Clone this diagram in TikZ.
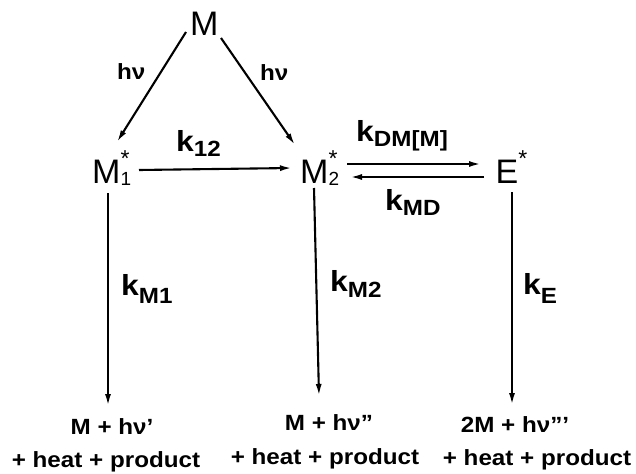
\documentclass[tikz,border=0pt]{standalone}
\usepackage{fontspec}
\usepackage{graphicx}
\setmainfont{Liberation Sans}
\usetikzlibrary{arrows.meta,calc}
\tikzset{
  big/.style={inner sep=0pt, anchor=base west, font=\fontsize{34}{34}\selectfont},
  klab/.style={inner sep=0pt, anchor=base west, font=\bfseries\fontsize{29}{29}\selectfont},
  hvlab/.style={inner sep=0pt, anchor=base west, font=\bfseries\fontsize{22}{22}\selectfont},
  prod/.style={inner sep=0pt, anchor=base, font=\bfseries\fontsize{22}{22}\selectfont},
  arr/.style={-{Latex[length=12pt,width=6pt]}, line width=2.1pt},
}
\newcommand\xs[1]{\scalebox{1.1}[1]{#1}}
\newcommand\sbs[2][5pt]{\raisebox{-#1}{\fontsize{22}{22}\selectfont #2}}
\newcommand\excited[1]{\rlap{\raisebox{-2pt}{\fontsize{19}{19}\selectfont #1}}\raisebox{17pt}{\fontsize{23}{23}\selectfont *}}
\begin{document}
\begin{tikzpicture}[x=1pt,y=-1pt]
\useasboundingbox (0,0) rectangle (636,473);
% species
\node[big] (M)  at (190,36)   {M};
\node[big] (M1) at (92,183)   {M\excited{1}};
\node[big] (M2) at (300,183)  {M\excited{2}};
\node[big] (E)  at (495.5,183) {E\raisebox{17pt}{\fontsize{23}{23}\selectfont *}};
% products
\node[prod] (L1) at (112,434) {\xs{M + hν'}};
\node[prod] (L2) at (329,430) {\xs{M + hν''}};
\node[prod] (L3) at (515,432) {\xs{2M + hν'''}};
\node[prod] (R1) at (106,467) {\xs{+ heat + product}};
\node[prod] (R2) at (325,464) {\xs{+ heat + product}};
\node[prod] (R3) at (537,465) {\xs{+ heat + product}};
% rate labels
\node[hvlab] (hv1) at (117,80) {\xs{hν}};
\node[hvlab] (hv2) at (260,81) {\xs{hν}};
\node[klab] (k12) at (176,152) {\xs{k\sbs{12}}};
\node[klab] (kDM) at (356,142) {\xs{k\sbs{DM[M]}}};
\node[klab] (kMD) at (385,210) {\xs{k\sbs{MD}}};
\node[klab] (kM1) at (121,295) {\xs{k\sbs[8pt]{M1}}};
\node[klab] (kM2) at (330,291) {\xs{k\sbs[6pt]{M2}}};
\node[klab] (kE)  at (523,294) {\xs{k\sbs[9pt]{E}}};
% connectors
\draw[arr] ([shift={(-4,-4)}]M.base west) -- ([shift={(25,-41)}]M1.base west);
\draw[arr] ([shift={(31,2)}]M.base west) -- ([shift={(-5,-38)}]M2.base west);
\draw[arr] ([shift={(47,-13)}]M1.base west) -- ([shift={(-8,-15)}]M2.base west);
\draw[arr] ([shift={(47,-19)}]M2.base west) -- ([shift={(-14.5,-19)}]E.base west);
\draw[arr] ([shift={(-11.5,-6)}]E.base west) -- ([shift={(50,-6)}]M2.base west);
\draw[arr] ([shift={(16,10)}]M1.base west) -- ([shift={(-4,-28)}]L1.base);
\draw[arr] ([shift={(14,5)}]M2.base west) -- ([shift={(-10,-34)}]L2.base);
\draw[arr] ([shift={(16.5,9)}]E.base west) -- ([shift={(-3,-27)}]L3.base);
\end{tikzpicture}
\end{document}
